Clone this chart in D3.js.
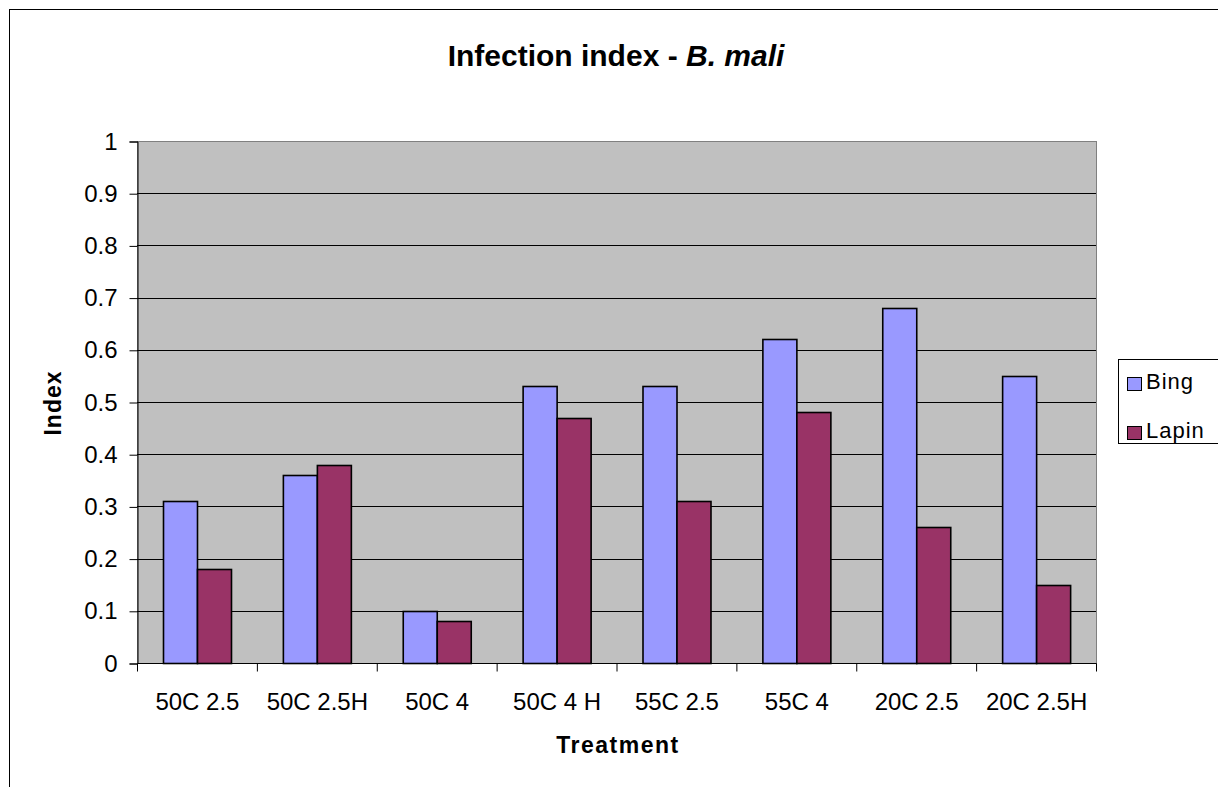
<!DOCTYPE html>
<html>
<head>
<meta charset="utf-8">
<script src="https://cdn.jsdelivr.net/npm/d3@7"></script>
<style>
  body { margin: 0; background: #fff; }
  svg { display: block; font-family: Arial, "Liberation Sans", sans-serif; }
</style>
</head>
<body>
<svg id="chart" width="1218" height="787"></svg>
<script>
// data
var treatments = ["50C 2.5", "50C 2.5H", "50C 4", "50C 4 H", "55C 2.5", "55C 4", "20C 2.5", "20C 2.5H"];
var series = ["Bing", "Lapin"];
var bing = [0.31, 0.36, 0.10, 0.53, 0.53, 0.62, 0.68, 0.55];
var lapin = [0.18, 0.38, 0.08, 0.47, 0.31, 0.48, 0.26, 0.15];
var yTicks = [0, 0.1, 0.2, 0.3, 0.4, 0.5, 0.6, 0.7, 0.8, 0.9, 1];
var colors = ["#9999ff", "#993366"];

var svg = d3.select("#chart");
var font = "Arial, 'Liberation Sans', sans-serif";

// outer chart frame (runs past the window edge like the original)
svg.append("rect")
  .attr("x", 9.5).attr("y", 9.5)
  .attr("width", 1240).attr("height", 800)
  .attr("fill", "#fff").attr("stroke", "#000");

var plotL = 137, plotT = 141, plotR = 1096, plotB = 663;

var x = d3.scaleBand().domain(treatments).range([plotL, plotR]);
var xs = d3.scaleBand().domain(series).range([0, x.bandwidth()]).paddingOuter(0.765);
var y = d3.scaleLinear().domain([0, 1]).range([plotB, plotT]);

// plot area
svg.append("rect")
  .attr("x", plotL + 0.5).attr("y", plotT + 0.5)
  .attr("width", plotR - plotL).attr("height", plotB - plotT)
  .attr("fill", "#c0c0c0").attr("stroke", "#808080");

// grid lines
svg.append("g").selectAll("line")
  .data(yTicks.filter(d => d > 0 && d < 1))
  .join("line")
  .attr("x1", plotL).attr("x2", plotR)
  .attr("y1", d => Math.round(y(d)) + 0.5).attr("y2", d => Math.round(y(d)) + 0.5)
  .attr("stroke", "#000");

// bars
var rows = treatments.map((t, i) => ({t: t, vals: [bing[i], lapin[i]]}));
var groups = svg.append("g").selectAll("g")
  .data(rows).join("g")
  .attr("transform", d => "translate(" + x(d.t) + ",0)");

groups.selectAll("rect")
  .data(d => d.vals.map((v, j) => ({s: series[j], v: v, c: colors[j]})))
  .join("rect")
  .attr("x", d => Math.round(xs(d.s)) + 0.5)
  .attr("y", d => Math.round(y(d.v)) + 0.5)
  .attr("width", Math.round(xs.bandwidth()))
  .attr("height", d => plotB - Math.round(y(d.v)))
  .attr("fill", d => d.c)
  .attr("stroke", "#000").attr("stroke-width", 1.6);

// y axis
var yAxis = svg.append("g")
  .attr("transform", "translate(" + (plotL + 0.5) + ",0.5)")
  .call(d3.axisLeft(y).tickValues(yTicks).tickSize(8).tickPadding(12).tickFormat(d3.format("~g")));
yAxis.selectAll("text").attr("font-size", 24).attr("fill", "#000").attr("font-family", font);
yAxis.select(".domain").attr("stroke", "#000");

// x axis
var xAxis = svg.append("g")
  .attr("transform", "translate(0.5," + (plotB + 0.5) + ")")
  .call(d3.axisBottom(x).tickSize(0).tickPadding(29));
xAxis.select(".domain").attr("d", "M" + plotL + ",0H" + plotR);
xAxis.selectAll("text").attr("font-size", 24).attr("fill", "#000").attr("font-family", font);
xAxis.append("g").selectAll("line")
  .data(treatments.concat(["end"]))
  .join("line")
  .attr("x1", (d, i) => plotL + i * x.step()).attr("x2", (d, i) => plotL + i * x.step())
  .attr("y1", 0).attr("y2", 8).attr("stroke", "#000");

// title
var title = svg.append("text")
  .attr("x", 616).attr("y", 66)
  .attr("text-anchor", "middle")
  .attr("font-size", 30).attr("font-weight", "bold");
title.append("tspan").text("Infection index - ");
title.append("tspan").attr("font-style", "italic").text("B. mali");

// axis titles
svg.append("text")
  .attr("x", 618).attr("y", 753)
  .attr("text-anchor", "middle")
  .attr("font-size", 23).attr("font-weight", "bold")
  .attr("letter-spacing", 1.5)
  .text("Treatment");

svg.append("text")
  .attr("transform", "translate(61,403) rotate(-90)")
  .attr("text-anchor", "middle")
  .attr("font-size", 23).attr("font-weight", "bold")
  .attr("letter-spacing", 1)
  .text("Index");

// legend
var legend = svg.append("g");
legend.append("rect")
  .attr("x", 1118.5).attr("y", 359.5)
  .attr("width", 120).attr("height", 84)
  .attr("fill", "#fff").attr("stroke", "#000");

var items = legend.selectAll("g.item")
  .data(series).join("g").attr("class", "item")
  .attr("transform", (d, i) => "translate(1127," + (377 + i * 49) + ")");
items.append("rect")
  .attr("x", 0.5).attr("y", 0.5)
  .attr("width", 14).attr("height", 13)
  .attr("fill", (d, i) => colors[i]).attr("stroke", "#000");
items.append("text")
  .attr("x", 19).attr("y", 12)
  .attr("font-size", 22).attr("letter-spacing", 1)
  .text(d => d);
</script>
</body>
</html>
